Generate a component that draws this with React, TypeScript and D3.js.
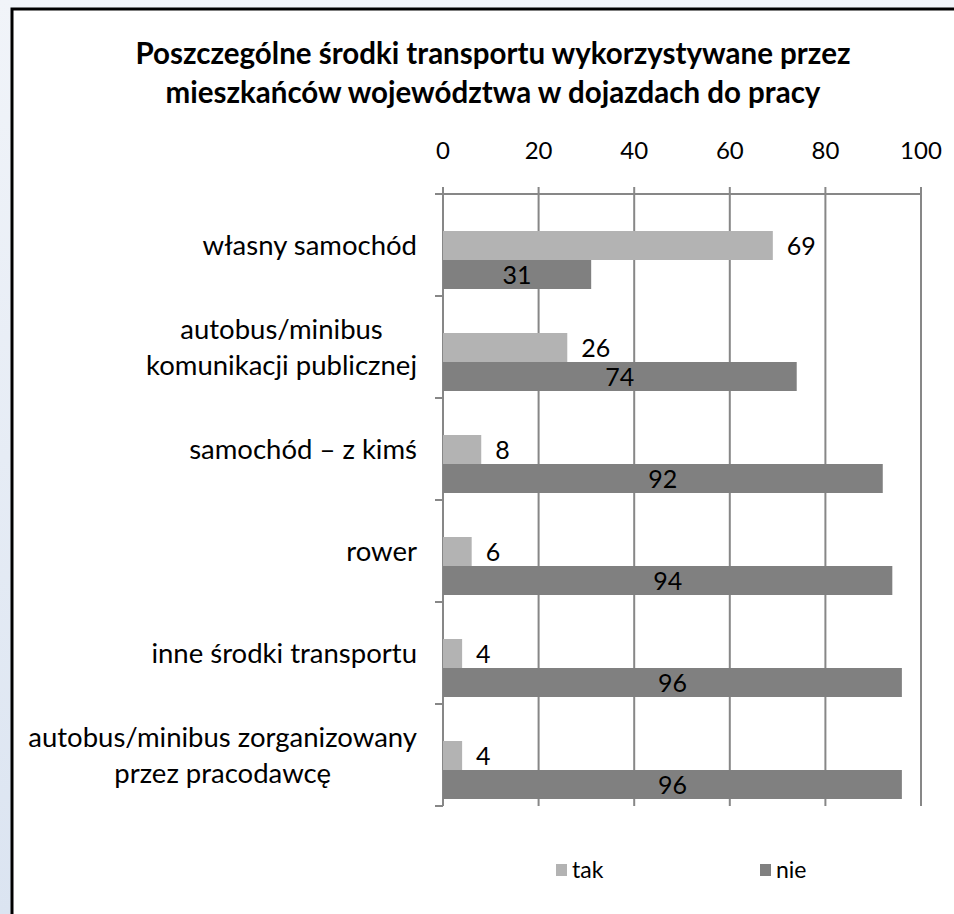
import React, { useEffect, useRef } from "react";
import * as d3 from "d3";

// dane
const categories = [
  ["własny samochód"],
  ["autobus/minibus", "komunikacji publicznej"],
  ["samochód – z kimś"],
  ["rower"],
  ["inne środki transportu"],
  ["autobus/minibus zorganizowany", "przez pracodawcę"],
];
const takValues = [69, 26, 8, 6, 4, 4];
const nieValues = [31, 74, 92, 94, 96, 96];
const seriesNames = ["tak", "nie"];
const xTicks = [0, 20, 40, 60, 80, 100];
const titleLines = [
  "Poszczególne środki transportu wykorzystywane przez",
  "mieszkańców województwa w dojazdach do pracy",
];

const W = 954;
const H = 914;
const FONT = "Lato, 'Open Sans', sans-serif";

export default function App() {
  const ref = useRef<SVGSVGElement>(null);

  useEffect(() => {
    const svg = d3.select(ref.current);
    svg.selectAll("*").remove();

    const defs = svg.append("defs");
    const grad = defs
      .append("linearGradient")
      .attr("id", "bg")
      .attr("x1", 0)
      .attr("y1", 0)
      .attr("x2", 0)
      .attr("y2", 1);
    grad.append("stop").attr("offset", "0%").attr("stop-color", "#f1f4f9");
    grad.append("stop").attr("offset", "100%").attr("stop-color", "#dbe4f1");

    svg.append("rect").attr("width", W).attr("height", H).attr("fill", "url(#bg)");
    svg
      .append("rect")
      .attr("x", 12)
      .attr("y", 9)
      .attr("width", W + 20)
      .attr("height", H + 20)
      .attr("fill", "#fff")
      .attr("stroke", "#000")
      .attr("stroke-width", 3);

    // tytuł
    svg
      .append("g")
      .selectAll("text")
      .data(titleLines)
      .enter()
      .append("text")
      .attr("x", 493)
      .attr("y", (d, i) => 64 + i * 39)
      .attr("text-anchor", "middle")
      .style("font-family", FONT)
      .style("font-weight", "bold")
      .style("font-size", "29.5px")
      .text((d) => d);

    const margin = { top: 194, left: 443 };
    const width = 478;
    const height = 612;
    const g = svg.append("g").attr("transform", `translate(${margin.left}, ${margin.top})`);

    const x = d3.scaleLinear().domain([0, 100]).range([0, width]);
    const y = d3
      .scaleBand<number>()
      .domain(d3.range(categories.length))
      .range([0, height]);
    const ySub = d3.scaleBand<string>().domain(seriesNames).range([37, 95]);

    const gridColor = "#878787";

    // siatka pionowa + ticki u góry
    g.selectAll(".grid")
      .data(xTicks)
      .enter()
      .append("line")
      .attr("x1", (d) => x(d))
      .attr("x2", (d) => x(d))
      .attr("y1", -7)
      .attr("y2", height)
      .attr("stroke", gridColor)
      .attr("stroke-width", 2);

    g.append("line")
      .attr("x1", -8)
      .attr("x2", width)
      .attr("y1", 0)
      .attr("y2", 0)
      .attr("stroke", gridColor)
      .attr("stroke-width", 2);

    // ticki kategorii
    g.selectAll(".ctick")
      .data(d3.range(categories.length + 1))
      .enter()
      .append("line")
      .attr("x1", -8)
      .attr("x2", 0)
      .attr("y1", (d) => (d < categories.length ? y(d)! : height))
      .attr("y2", (d) => (d < categories.length ? y(d)! : height))
      .attr("stroke", gridColor)
      .attr("stroke-width", 2);

    g.selectAll(".xlabel")
      .data(xTicks)
      .enter()
      .append("text")
      .attr("x", (d) => x(d))
      .attr("y", -35)
      .attr("text-anchor", "middle")
      .style("font-family", FONT)
      .style("font-size", "24px")
      .text((d) => d);

    // słupki
    const colors: Record<string, string> = { tak: "#b3b3b3", nie: "#808080" };
    const rows = categories.map((c, i) => ({ i, tak: takValues[i], nie: nieValues[i] }));

    seriesNames.forEach((s) => {
      g.selectAll(`.bar-${s}`)
        .data(rows)
        .enter()
        .append("rect")
        .attr("x", 0)
        .attr("y", (d) => y(d.i)! + ySub(s)!)
        .attr("width", (d) => x((d as any)[s]))
        .attr("height", ySub.bandwidth())
        .attr("fill", colors[s]);
    });

    // etykiety wartości
    g.selectAll(".lab-tak")
      .data(rows)
      .enter()
      .append("text")
      .attr("x", (d) => x(d.tak) + 14)
      .attr("y", (d) => y(d.i)! + ySub("tak")! + ySub.bandwidth() / 2)
      .attr("dy", "0.36em")
      .style("font-family", FONT)
      .style("font-size", "25px")
      .text((d) => d.tak);

    g.selectAll(".lab-nie")
      .data(rows)
      .enter()
      .append("text")
      .attr("x", (d) => x(d.nie) / 2)
      .attr("y", (d) => y(d.i)! + ySub("nie")! + ySub.bandwidth() / 2)
      .attr("dy", "0.36em")
      .attr("text-anchor", "middle")
      .style("font-family", FONT)
      .style("font-size", "25px")
      .text((d) => d.nie);

    // etykiety kategorii (wieloliniowe wyśrodkowane w bloku wyrównanym do prawej)
    categories.forEach((lines, i) => {
      const cg = g.append("g");
      const texts = cg
        .selectAll("text")
        .data(lines)
        .enter()
        .append("text")
        .attr("text-anchor", "middle")
        .style("font-family", FONT)
        .style("font-size", "27.5px")
        .text((d) => d);
      let maxW = 0;
      texts.each(function () {
        maxW = Math.max(maxW, (this as SVGTextElement).getComputedTextLength());
      });
      const cx = -26 - maxW / 2;
      const cy = y(i)! + y.bandwidth() / 2;
      const lh = 36;
      texts
        .attr("x", cx)
        .attr("y", (d, k) => cy + (k - (lines.length - 1) / 2) * lh)
        .attr("dy", "0.35em");
    });

    // legenda
    const legendX = [556, 760];
    const leg = svg
      .selectAll(".leg")
      .data(seriesNames)
      .enter()
      .append("g")
      .attr("transform", (d, i) => `translate(${legendX[i]}, 864)`);
    leg
      .append("rect")
      .attr("width", 11)
      .attr("height", 12)
      .attr("fill", (d) => colors[d]);
    leg
      .append("text")
      .attr("x", 16)
      .attr("y", 6)
      .attr("dy", "0.36em")
      .style("font-family", FONT)
      .style("font-size", "23px")
      .text((d) => d);
  }, []);

  return (
    <svg
      ref={ref}
      width={W}
      height={H}
      style={{ position: "absolute", left: 0, top: 0, display: "block" }}
    />
  );
}
